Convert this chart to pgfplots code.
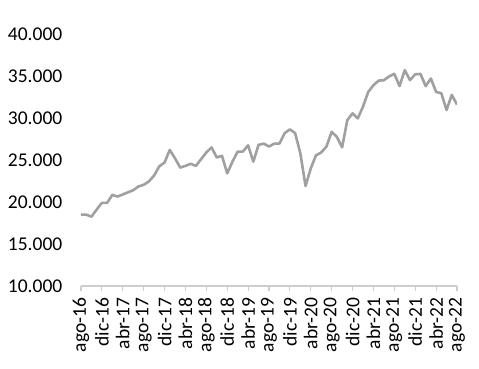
\documentclass[border=0pt]{standalone}
\usepackage{pgfplots}
\pgfplotsset{compat=1.18}
\usepackage{fontspec}
\setmainfont{Carlito}
\definecolor{linegray}{RGB}{160,160,160}
\definecolor{axgray}{RGB}{205,205,205}
\begin{document}
\fontsize{19.5bp}{22bp}\selectfont
\begin{tikzpicture}
\path[use as bounding box] (-81bp,-83bp) rectangle (398bp,286bp);
\begin{axis}[
  at={(0,0)}, anchor=south west,
  scale only axis,
  width=376bp, height=252bp,
  xmin=0, xmax=72, ymin=10000, ymax=40000,
  axis x line*=bottom,
  axis y line*=left,
  y axis line style={draw=none},
  x axis line style={draw=axgray, line width=1.2bp},
  xtick={0,4,...,72},
  xticklabels={ago-16,dic-16,abr-17,ago-17,dic-17,abr-18,ago-18,dic-18,abr-19,ago-19,dic-19,abr-20,ago-20,dic-20,abr-21,ago-21,dic-21,abr-22,ago-22},
  xticklabel style={rotate=90, anchor=east, font=\fontsize{19.5bp}{22bp}\selectfont},
  tick align=outside,
  major x tick style={draw=axgray, line width=1.2bp},
  major tick length=5bp,
  ytick={10000,15000,...,40000},
  major y tick style={draw=none},
  yticklabel style={font=\fontsize{19.5bp}{22bp}\selectfont, xshift=-7bp},
  scaled y ticks=false,
  /pgf/number format/.cd, 1000 sep={.}, assume math mode=true,
]
\addplot[linegray, line width=2.6bp, line join=round, mark=none] coordinates {
(0,18500) (1,18500) (2,18250) (3,19100) (4,19900) (5,19900) (6,20850) (7,20650)
(8,20900) (9,21150) (10,21400) (11,21850) (12,22050) (13,22450) (14,23150) (15,24250)
(16,24700) (17,26200) (18,25200) (19,24100) (20,24300) (21,24550) (22,24300) (23,25100)
(24,25900) (25,26500) (26,25300) (27,25500) (28,23400) (29,24800) (30,26000) (31,26000)
(32,26750) (33,24800) (34,26800) (35,26950) (36,26600) (37,26950) (38,26950) (39,28200)
(40,28650) (41,28200) (42,25800) (43,21900) (44,24000) (45,25550) (46,25900) (47,26600)
(48,28350) (49,27750) (50,26500) (51,29750) (52,30550) (53,29950) (54,31350) (55,33100)
(56,33900) (57,34450) (58,34500) (59,34950) (60,35250) (61,33800) (62,35700) (63,34500)
(64,35200) (65,35250) (66,33800) (67,34700) (68,33100) (69,32950) (70,30950) (71,32750)
(72,31600)
};
\end{axis}
\end{tikzpicture}
\end{document}
